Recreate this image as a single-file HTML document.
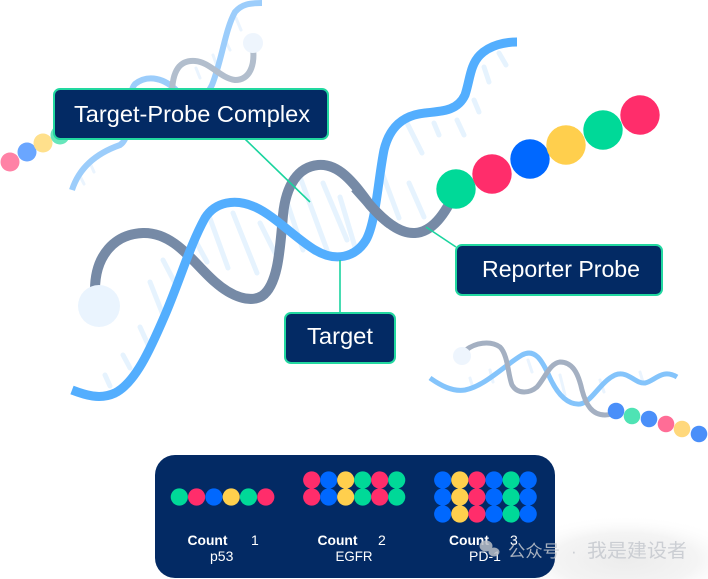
<!DOCTYPE html>
<html>
<head>
<meta charset="utf-8">
<style>
  html,body{margin:0;padding:0;background:#ffffff;}
  body{width:708px;height:579px;overflow:hidden;}
  svg{display:block;}
  text{font-family:"Liberation Sans","Noto Sans CJK SC",sans-serif;}
</style>
</head>
<body>
<svg width="708" height="579" viewBox="0 0 708 579" xmlns="http://www.w3.org/2000/svg">
  <defs>
    <radialGradient id="glow" cx="0.5" cy="0.5" r="0.5">
      <stop offset="0" stop-color="#ececec"/>
      <stop offset="0.6" stop-color="#f4f4f4"/>
      <stop offset="1" stop-color="#ffffff" stop-opacity="0"/>
    </radialGradient>
  </defs>
  <rect x="0" y="0" width="708" height="579" fill="#ffffff"/>
  <ellipse cx="625" cy="560" rx="120" ry="45" fill="url(#glow)"/>

  <!-- ===== Top-left small DNA ===== -->
  <g fill="none" stroke-linecap="round">
    <g stroke="#eaf4fe" stroke-width="3">
      <line x1="196" y1="68" x2="200" y2="78"/>
      <line x1="213" y1="55" x2="217" y2="66"/>
      <line x1="225" y1="40" x2="230" y2="50"/>
      <line x1="236" y1="18" x2="241" y2="30"/>
      <line x1="80" y1="176" x2="84" y2="184"/>
      <line x1="90" y1="163" x2="94" y2="172"/>
    </g>
    <path d="M72,190 C80,165 100,152 120,145 C135,135 125,95 135,84 C148,74 165,78 178,92 C190,105 205,100 212,85 C222,60 225,30 235,12 C242,4 250,3 262,3" stroke="#9ccdfb" stroke-width="6" stroke-linecap="butt"/>
    <path d="M172,95 C172,70 180,60 195,61 C210,62 220,78 235,80 C250,80 255,65 253,48" stroke="#b2becd" stroke-width="6" stroke-linecap="butt"/>
  </g>
  <circle cx="253" cy="43" r="10" fill="#eef5fd"/>
  <circle cx="10" cy="162" r="9.5" fill="#ff82a6"/>
  <circle cx="27" cy="152" r="9.5" fill="#6aa6ff"/>
  <circle cx="43" cy="143" r="9.5" fill="#ffe08c"/>
  <circle cx="60" cy="135" r="9.5" fill="#66e6bb"/>

  <!-- ===== Bottom-right small DNA ===== -->
  <g fill="none" stroke-linecap="round">
    <g stroke="#eaf4fe" stroke-width="3">
      <line x1="470" y1="378" x2="473" y2="388"/>
      <line x1="490" y1="370" x2="493" y2="382"/>
      <line x1="528" y1="360" x2="532" y2="372"/>
      <line x1="560" y1="375" x2="565" y2="395"/>
      <line x1="600" y1="380" x2="604" y2="392"/>
      <line x1="640" y1="372" x2="643" y2="382"/>
    </g>
    <path d="M430,378 C440,385 452,392 465,390 C485,386 505,365 522,355 C535,348 542,360 550,378 C558,395 568,405 580,404 C592,402 600,382 615,375 C628,370 635,384 645,383 C655,381 662,368 677,377" stroke="#84c4fb" stroke-width="5" stroke-linecap="butt"/>
    <path d="M466,350 C475,343 490,340 500,347 C508,355 508,375 512,385 C518,395 530,393 537,387 C545,378 550,363 560,362 C572,362 578,372 582,390 C586,405 592,415 605,415 C610,415 614,413 616,411" stroke="#a4b0c2" stroke-width="5" stroke-linecap="butt"/>
  </g>
  <circle cx="462" cy="356" r="9" fill="#eef5fd"/>
  <circle cx="616" cy="411" r="8.3" fill="#4a8ff9"/>
  <circle cx="632" cy="416" r="8.3" fill="#4fe3b4"/>
  <circle cx="649" cy="419" r="8.3" fill="#4a8ff9"/>
  <circle cx="666" cy="424" r="8.3" fill="#ff6d96"/>
  <circle cx="682" cy="429" r="8.3" fill="#ffd87c"/>
  <circle cx="699" cy="434" r="8.3" fill="#4a8ff9"/>

  <!-- ===== Main DNA ===== -->
  <g fill="none" stroke-linecap="round" stroke="#e6f3fe" stroke-width="5">
    <line x1="105" y1="375" x2="110" y2="386"/>
    <line x1="123" y1="355" x2="130" y2="368"/>
    <line x1="140" y1="327" x2="150" y2="349"/>
    <line x1="150" y1="282" x2="163" y2="315"/>
    <line x1="163" y1="260" x2="175" y2="283"/>
    <line x1="195" y1="240" x2="207" y2="262"/>
    <line x1="208" y1="213" x2="228" y2="268"/>
    <line x1="233" y1="213" x2="257" y2="273"/>
    <line x1="260" y1="223" x2="275" y2="253"/>
    <line x1="287" y1="202" x2="303" y2="250"/>
    <line x1="300" y1="177" x2="327" y2="250"/>
    <line x1="323" y1="183" x2="347" y2="240"/>
    <line x1="340" y1="197" x2="355" y2="247"/>
    <line x1="381" y1="170" x2="399" y2="218"/>
    <line x1="409" y1="183" x2="424" y2="217"/>
    <line x1="407" y1="123" x2="422" y2="153"/>
    <line x1="434" y1="123" x2="439" y2="135"/>
    <line x1="457" y1="120" x2="464" y2="135"/>
    <line x1="474" y1="100" x2="479" y2="112"/>
    <line x1="484" y1="67" x2="489" y2="82"/>
    <line x1="499" y1="53" x2="506" y2="65"/>
  </g>
  <path d="M95,290 C95,255 115,234 143,233 C175,232 195,265 215,282 C232,297 250,303 262,296 C278,285 280,250 283,215 C286,185 298,167 318,165 C340,163 355,185 370,205 C385,222 400,234 415,233 C432,232 445,215 456,190" fill="none" stroke="#768aa6" stroke-width="10"/>
  <path d="M72,390 C85,395 100,400 115,393 C135,383 150,350 165,315 C180,280 190,245 205,218 C215,202 235,198 255,207 C275,216 295,238 315,250 C335,262 355,258 366,240 C376,222 378,180 384,150 C390,125 405,115 425,113 C445,111 458,110 465,95 C470,80 470,65 480,55 C490,45 505,42 517,42" fill="none" stroke="#53aefe" stroke-width="9"/>
  <!-- gray over blue at right crossing -->
  <path d="M355,188 C362,196 366,200 370,205 C378,214 384,220 390,224" fill="none" stroke="#768aa6" stroke-width="10"/>
  <circle cx="99" cy="306" r="21" fill="#eaf4fe"/>

  <!-- reporter beads -->
  <circle cx="456" cy="189" r="19.7" fill="#00d998"/>
  <circle cx="492" cy="174" r="19.7" fill="#ff2d6b"/>
  <circle cx="530" cy="159" r="19.7" fill="#0068ff"/>
  <circle cx="566" cy="145" r="19.7" fill="#ffcf4d"/>
  <circle cx="603" cy="130" r="19.7" fill="#00d998"/>
  <circle cx="640" cy="115" r="19.7" fill="#ff2d6b"/>

  <!-- ===== Connectors ===== -->
  <g stroke="#1ad49e" stroke-width="1.6" fill="none">
    <line x1="245" y1="139" x2="310" y2="202"/>
    <line x1="340" y1="260" x2="340" y2="312"/>
    <line x1="426" y1="227" x2="456" y2="247"/>
  </g>

  <!-- ===== Labels ===== -->
  <rect x="54" y="89" width="274" height="50" rx="6" fill="#032a64" stroke="#22d8a0" stroke-width="2"/>
  <text x="74" y="122" font-size="23" fill="#ffffff" textLength="236" lengthAdjust="spacingAndGlyphs">Target-Probe Complex</text>

  <rect x="285" y="313" width="110" height="50" rx="6" fill="#032a64" stroke="#22d8a0" stroke-width="2"/>
  <text x="307" y="344" font-size="23" fill="#ffffff" textLength="66" lengthAdjust="spacingAndGlyphs">Target</text>

  <rect x="456" y="245" width="206" height="50" rx="6" fill="#032a64" stroke="#22d8a0" stroke-width="2"/>
  <text x="482" y="277" font-size="23" fill="#ffffff" textLength="158" lengthAdjust="spacingAndGlyphs">Reporter Probe</text>

  <!-- ===== Bottom panel ===== -->
  <rect x="155" y="455" width="400" height="123" rx="20" fill="#032a64"/>
  <!-- p53 -->
  <g>
    <circle cx="179.3" cy="497" r="8.6" fill="#00d998"/>
    <circle cx="196.6" cy="497" r="8.6" fill="#ff2d6b"/>
    <circle cx="213.9" cy="497" r="8.6" fill="#0068ff"/>
    <circle cx="231.2" cy="497" r="8.6" fill="#ffcf4d"/>
    <circle cx="248.5" cy="497" r="8.6" fill="#00d998"/>
    <circle cx="265.8" cy="497" r="8.6" fill="#ff2d6b"/>
  </g>
  <!-- EGFR -->
  <g>
    <circle cx="311.7" cy="480" r="8.6" fill="#ff2d6b"/>
    <circle cx="328.7" cy="480" r="8.6" fill="#0068ff"/>
    <circle cx="345.7" cy="480" r="8.6" fill="#ffcf4d"/>
    <circle cx="362.7" cy="480" r="8.6" fill="#00d998"/>
    <circle cx="379.7" cy="480" r="8.6" fill="#ff2d6b"/>
    <circle cx="396.7" cy="480" r="8.6" fill="#00d998"/>
    <circle cx="311.7" cy="497" r="8.6" fill="#ff2d6b"/>
    <circle cx="328.7" cy="497" r="8.6" fill="#0068ff"/>
    <circle cx="345.7" cy="497" r="8.6" fill="#ffcf4d"/>
    <circle cx="362.7" cy="497" r="8.6" fill="#00d998"/>
    <circle cx="379.7" cy="497" r="8.6" fill="#ff2d6b"/>
    <circle cx="396.7" cy="497" r="8.6" fill="#00d998"/>
  </g>
  <!-- PD-1 -->
  <g>
    <circle cx="442.7" cy="480" r="8.6" fill="#0068ff"/>
    <circle cx="459.8" cy="480" r="8.6" fill="#ffcf4d"/>
    <circle cx="476.9" cy="480" r="8.6" fill="#ff2d6b"/>
    <circle cx="494" cy="480" r="8.6" fill="#0068ff"/>
    <circle cx="511.1" cy="480" r="8.6" fill="#00d998"/>
    <circle cx="528.2" cy="480" r="8.6" fill="#0068ff"/>
    <circle cx="442.7" cy="497" r="8.6" fill="#0068ff"/>
    <circle cx="459.8" cy="497" r="8.6" fill="#ffcf4d"/>
    <circle cx="476.9" cy="497" r="8.6" fill="#ff2d6b"/>
    <circle cx="494" cy="497" r="8.6" fill="#0068ff"/>
    <circle cx="511.1" cy="497" r="8.6" fill="#00d998"/>
    <circle cx="528.2" cy="497" r="8.6" fill="#0068ff"/>
    <circle cx="442.7" cy="514" r="8.6" fill="#0068ff"/>
    <circle cx="459.8" cy="514" r="8.6" fill="#ffcf4d"/>
    <circle cx="476.9" cy="514" r="8.6" fill="#ff2d6b"/>
    <circle cx="494" cy="514" r="8.6" fill="#0068ff"/>
    <circle cx="511.1" cy="514" r="8.6" fill="#00d998"/>
    <circle cx="528.2" cy="514" r="8.6" fill="#0068ff"/>
  </g>

  <g fill="#ffffff" font-size="14">
    <text x="187.5" y="545" font-weight="bold" textLength="40" lengthAdjust="spacingAndGlyphs">Count</text>
    <text x="251" y="545">1</text>
    <text x="210" y="561">p53</text>

    <text x="317.5" y="545" font-weight="bold" textLength="40" lengthAdjust="spacingAndGlyphs">Count</text>
    <text x="378" y="545">2</text>
    <text x="335.5" y="561" textLength="37" lengthAdjust="spacingAndGlyphs">EGFR</text>

    <text x="449" y="545" font-weight="bold" textLength="40" lengthAdjust="spacingAndGlyphs">Count</text>
    <text x="510" y="545">3</text>
    <text x="469" y="561">PD-1</text>
  </g>

  <!-- ===== Watermark ===== -->
  <g fill="#b9bec6" opacity="0.85">
    <ellipse cx="486" cy="546" rx="6.5" ry="5.5"/>
    <ellipse cx="494" cy="552" rx="5.5" ry="4.5"/>
  </g>
  <g fill="#c4c8ce" fill-opacity="0.85" font-family="'Liberation Sans','Noto Sans CJK SC',sans-serif">
    <text x="508" y="557" font-size="17" textLength="52" lengthAdjust="spacingAndGlyphs">公众号</text>
    <text x="571" y="557" font-size="17">·</text>
    <text x="587" y="557" font-size="19" textLength="100" lengthAdjust="spacingAndGlyphs">我是建设者</text>
  </g>
</svg>
</body>
</html>
